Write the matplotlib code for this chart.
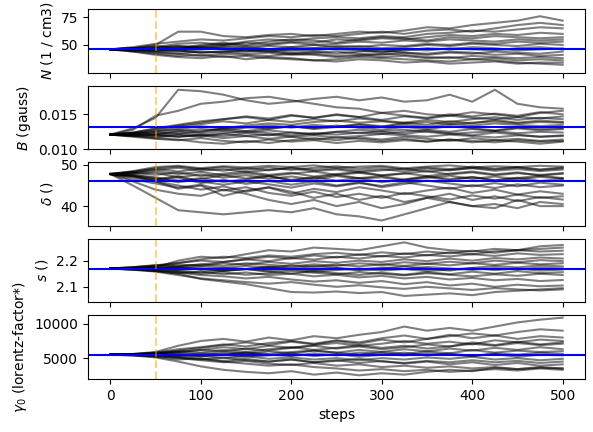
import matplotlib
matplotlib.use("Agg")
import matplotlib.pyplot as plt
import numpy as np

# walker positions every 25 steps
steps = list(range(0, 501, 25))

N_walkers = [
    [46, 47, 50, 62, 62, 58, 57, 59, 60, 58, 60, 62, 61, 63, 66, 65, 68, 70, 72, 76, 72],
    [46, 48, 51, 53, 55, 54, 56, 58, 57, 59, 58, 60, 62, 60, 63, 64, 62, 65, 68, 70, 68],
    [46, 44, 42, 40, 41, 39, 40, 38, 37, 36, 35, 37, 36, 34, 35, 33, 34, 35, 33, 34, 34],
    [46, 45, 47, 49, 48, 50, 52, 51, 53, 52, 55, 54, 56, 55, 57, 59, 58, 60, 59, 61, 60],
    [46, 46, 44, 45, 43, 44, 42, 43, 41, 42, 40, 41, 39, 40, 38, 39, 37, 38, 36, 37, 36],
    [46, 47, 46, 48, 47, 49, 48, 46, 48, 47, 49, 48, 50, 49, 51, 50, 52, 51, 53, 52, 53],
    [46, 45, 43, 42, 44, 43, 45, 44, 42, 43, 44, 42, 41, 43, 42, 44, 43, 41, 42, 40, 41],
    [46, 47, 49, 47, 50, 52, 50, 53, 55, 54, 52, 55, 57, 56, 54, 57, 56, 58, 57, 56, 57],
    [46, 46, 45, 46, 48, 47, 45, 44, 46, 45, 47, 46, 44, 45, 47, 46, 48, 47, 45, 46, 47],
    [46, 44, 41, 39, 38, 40, 37, 39, 38, 36, 37, 39, 38, 37, 36, 35, 37, 36, 34, 33, 32],
    [46, 47, 48, 51, 52, 50, 53, 55, 54, 56, 57, 56, 58, 57, 60, 61, 63, 62, 64, 66, 65],
    [46, 45, 46, 44, 46, 48, 47, 49, 48, 50, 48, 49, 47, 48, 50, 49, 51, 50, 49, 51, 50],
    [46, 46, 47, 45, 43, 44, 46, 45, 43, 44, 42, 44, 45, 43, 41, 43, 42, 44, 43, 42, 44],
    [46, 47, 45, 47, 49, 51, 49, 50, 52, 50, 51, 53, 52, 54, 53, 55, 54, 53, 55, 54, 55],
    [46, 45, 44, 42, 40, 42, 41, 40, 42, 41, 39, 40, 42, 41, 39, 38, 40, 39, 38, 39, 38],
    [46, 46, 48, 49, 47, 46, 44, 46, 45, 47, 46, 45, 43, 46, 45, 47, 46, 45, 47, 48, 46],
]

# B in milligauss (converted to gauss below)
B_walkers_mG = [
    [12.1, 13.0, 14.5, 18.5, 18.3, 17.8, 17.0, 16.5, 16.8, 17.2, 17.5, 17.0, 17.4, 16.8, 17.0, 17.8, 16.8, 18.5, 16.5, 16.0, 15.8],
    [12.1, 12.8, 14.8, 15.5, 16.5, 16.8, 17.3, 17.5, 17.0, 16.5, 16.0, 15.8, 15.2, 15.5, 15.0, 14.8, 15.3, 15.0, 14.6, 15.2, 15.5],
    [12.1, 12.4, 13.0, 13.5, 14.0, 14.3, 14.6, 14.2, 14.8, 14.5, 14.9, 14.6, 14.2, 14.7, 14.4, 14.8, 14.5, 14.3, 14.6, 14.4, 14.7],
    [12.1, 11.8, 11.5, 11.3, 11.6, 11.2, 11.0, 11.4, 11.1, 11.3, 10.9, 11.2, 11.0, 11.3, 11.1, 11.4, 11.2, 11.0, 11.3, 11.1, 11.2],
    [12.1, 12.3, 12.6, 12.9, 13.3, 13.0, 13.4, 13.7, 13.5, 13.9, 14.1, 13.8, 14.0, 13.7, 13.9, 13.6, 13.8, 14.0, 13.7, 13.9, 13.8],
    [12.1, 12.0, 11.7, 12.0, 11.8, 12.2, 11.9, 12.1, 11.8, 12.0, 11.7, 11.9, 12.2, 12.0, 11.8, 12.1, 11.9, 11.7, 12.0, 11.8, 11.9],
    [12.1, 12.2, 12.5, 12.8, 12.5, 13.0, 13.2, 12.9, 13.3, 13.0, 13.4, 13.1, 12.8, 13.2, 12.9, 13.3, 13.0, 12.7, 13.1, 12.9, 13.0],
    [12.1, 11.9, 11.6, 11.4, 11.0, 10.8, 11.2, 10.9, 11.3, 11.6, 11.3, 11.7, 11.4, 11.8, 11.5, 11.2, 11.6, 11.3, 11.5, 11.2, 11.4],
    [12.1, 12.3, 12.7, 13.2, 13.6, 14.0, 13.7, 14.2, 13.9, 14.3, 14.0, 14.4, 14.1, 13.8, 14.2, 13.9, 14.3, 14.6, 14.2, 14.5, 14.3],
    [12.1, 12.0, 12.2, 12.5, 12.3, 12.6, 12.4, 12.7, 12.4, 12.2, 12.5, 12.3, 12.6, 12.8, 12.5, 12.2, 12.4, 12.6, 12.3, 12.5, 12.4],
    [12.1, 12.2, 12.0, 11.8, 12.1, 11.9, 12.3, 12.0, 12.4, 12.1, 12.5, 12.8, 12.5, 12.2, 12.6, 12.3, 12.0, 12.4, 12.1, 11.8, 12.0],
    [12.1, 12.4, 12.9, 13.4, 13.8, 14.3, 14.7, 14.4, 14.9, 14.5, 15.0, 14.6, 15.2, 14.8, 14.5, 15.0, 14.7, 15.1, 14.8, 15.3, 15.0],
    [12.1, 11.9, 12.1, 11.8, 12.0, 11.6, 11.9, 11.5, 11.8, 11.4, 11.7, 11.5, 11.2, 11.5, 11.1, 11.4, 11.0, 11.3, 11.1, 10.8, 11.1],
    [12.1, 12.3, 12.1, 12.6, 12.9, 12.7, 13.1, 13.4, 13.1, 13.5, 13.2, 13.6, 13.3, 13.5, 13.2, 13.6, 13.4, 13.7, 13.5, 13.3, 13.5],
    [12.1, 12.0, 11.9, 12.2, 12.0, 12.3, 12.6, 12.3, 12.0, 12.3, 12.1, 12.4, 12.2, 12.5, 12.8, 12.5, 12.9, 12.6, 13.0, 12.7, 12.9],
    [12.1, 12.2, 12.4, 12.2, 12.6, 12.9, 12.6, 13.0, 13.3, 12.9, 13.2, 13.5, 13.2, 13.8, 13.5, 14.0, 13.7, 14.2, 13.8, 14.1, 13.9],
]

delta_walkers = [
    [47.8, 45.0, 42.0, 39.0, 38.5, 38.0, 38.5, 39.0, 38.5, 39.5, 38.0, 37.5, 36.5, 38.0, 39.5, 41.0, 40.0, 39.5, 41.5, 40.0, 40.0],
    [47.8, 46.0, 44.0, 43.0, 42.5, 44.0, 43.0, 41.5, 40.5, 41.5, 40.0, 41.0, 39.5, 40.5, 42.0, 41.0, 40.0, 40.5, 39.5, 41.0, 40.5],
    [47.8, 48.5, 49.5, 49.8, 49.2, 49.7, 49.4, 49.8, 49.5, 49.9, 49.3, 49.6, 49.8, 49.2, 49.6, 49.9, 49.4, 49.7, 49.5, 49.8, 49.6],
    [47.8, 48.2, 48.8, 49.3, 48.6, 49.0, 48.3, 48.8, 49.2, 48.5, 48.9, 48.2, 48.7, 49.1, 48.4, 48.8, 49.2, 48.6, 49.0, 48.5, 48.9],
    [47.8, 47.5, 47.0, 46.2, 46.8, 45.9, 46.5, 47.2, 46.4, 47.0, 46.2, 46.8, 45.8, 46.5, 47.3, 46.6, 47.1, 46.3, 46.9, 46.1, 46.6],
    [47.8, 47.0, 46.0, 45.0, 44.0, 44.8, 43.5, 44.5, 43.0, 44.2, 43.4, 44.6, 43.8, 42.9, 43.8, 44.5, 43.2, 44.0, 42.8, 43.6, 43.0],
    [47.8, 48.0, 48.5, 47.8, 48.3, 47.5, 48.0, 47.3, 47.9, 48.4, 47.6, 48.1, 47.4, 47.9, 48.5, 47.7, 48.2, 47.5, 48.0, 47.6, 48.0],
    [47.8, 47.2, 46.5, 47.3, 46.0, 45.2, 46.0, 45.3, 44.5, 45.5, 44.8, 45.6, 44.9, 45.8, 45.0, 44.2, 45.1, 44.4, 45.3, 44.6, 45.0],
    [47.8, 48.3, 49.0, 48.4, 49.1, 48.6, 49.3, 48.7, 49.4, 48.8, 49.2, 48.6, 49.0, 48.4, 49.1, 48.7, 49.3, 48.9, 49.4, 48.8, 49.2],
    [47.8, 47.6, 46.8, 45.8, 46.6, 47.5, 46.7, 47.4, 46.2, 46.9, 47.6, 46.8, 47.3, 46.4, 47.1, 46.3, 47.0, 46.2, 46.8, 47.4, 46.8],
    [47.8, 46.5, 45.5, 44.5, 45.2, 43.8, 44.6, 43.2, 42.5, 43.5, 42.2, 43.0, 42.0, 43.2, 42.4, 41.6, 42.6, 41.8, 42.8, 42.0, 42.4],
    [47.8, 48.1, 47.6, 48.2, 47.3, 47.9, 48.4, 47.6, 48.1, 47.2, 47.8, 48.3, 47.5, 48.0, 47.3, 47.9, 48.4, 47.7, 48.2, 47.4, 47.9],
    [47.8, 47.4, 46.4, 47.0, 45.6, 46.4, 45.4, 46.1, 45.2, 46.0, 45.0, 45.8, 44.6, 45.4, 46.2, 45.5, 44.8, 45.6, 44.8, 45.7, 45.2],
    [47.8, 48.4, 49.2, 49.6, 49.0, 49.5, 48.9, 49.4, 48.8, 49.3, 49.7, 49.1, 49.5, 48.9, 49.4, 49.0, 49.6, 49.1, 49.5, 48.9, 49.4],
    [47.8, 47.3, 46.0, 44.2, 45.0, 42.5, 43.8, 44.6, 43.5, 42.0, 43.0, 41.5, 42.5, 41.0, 42.0, 43.0, 41.5, 42.4, 41.2, 42.2, 41.6],
    [47.8, 47.9, 48.1, 47.0, 47.7, 46.9, 47.5, 46.6, 47.2, 46.5, 47.3, 46.7, 47.0, 46.2, 46.9, 47.4, 46.6, 47.2, 46.5, 47.1, 46.7],
]

s_walkers = [
    [2.170, 2.172, 2.175, 2.200, 2.215, 2.210, 2.225, 2.240, 2.235, 2.250, 2.245, 2.240, 2.255, 2.270, 2.250, 2.240, 2.235, 2.245, 2.240, 2.255, 2.260],
    [2.170, 2.165, 2.160, 2.150, 2.130, 2.120, 2.110, 2.095, 2.080, 2.078, 2.082, 2.076, 2.080, 2.065, 2.070, 2.075, 2.068, 2.080, 2.085, 2.090, 2.095],
    [2.170, 2.175, 2.180, 2.190, 2.205, 2.215, 2.210, 2.220, 2.215, 2.225, 2.230, 2.222, 2.232, 2.225, 2.235, 2.228, 2.238, 2.230, 2.240, 2.235, 2.238],
    [2.170, 2.168, 2.162, 2.155, 2.145, 2.140, 2.132, 2.138, 2.128, 2.120, 2.125, 2.115, 2.122, 2.110, 2.118, 2.105, 2.112, 2.100, 2.108, 2.102, 2.105],
    [2.170, 2.172, 2.178, 2.185, 2.180, 2.190, 2.185, 2.195, 2.188, 2.198, 2.192, 2.200, 2.195, 2.205, 2.198, 2.208, 2.200, 2.210, 2.205, 2.212, 2.208],
    [2.170, 2.166, 2.170, 2.164, 2.170, 2.162, 2.168, 2.160, 2.166, 2.158, 2.164, 2.170, 2.162, 2.168, 2.160, 2.166, 2.172, 2.164, 2.170, 2.162, 2.166],
    [2.170, 2.173, 2.168, 2.175, 2.165, 2.172, 2.180, 2.174, 2.182, 2.176, 2.185, 2.178, 2.186, 2.180, 2.188, 2.182, 2.190, 2.184, 2.192, 2.186, 2.190],
    [2.170, 2.167, 2.160, 2.152, 2.158, 2.148, 2.155, 2.145, 2.150, 2.140, 2.146, 2.136, 2.142, 2.132, 2.138, 2.128, 2.134, 2.125, 2.130, 2.122, 2.126],
    [2.170, 2.174, 2.182, 2.192, 2.200, 2.195, 2.205, 2.198, 2.210, 2.204, 2.215, 2.208, 2.218, 2.212, 2.222, 2.216, 2.225, 2.218, 2.228, 2.222, 2.225],
    [2.170, 2.168, 2.164, 2.158, 2.150, 2.155, 2.146, 2.152, 2.160, 2.154, 2.148, 2.156, 2.150, 2.144, 2.152, 2.146, 2.140, 2.148, 2.142, 2.150, 2.145],
    [2.170, 2.171, 2.175, 2.170, 2.178, 2.172, 2.168, 2.175, 2.170, 2.164, 2.172, 2.166, 2.174, 2.168, 2.176, 2.170, 2.165, 2.172, 2.166, 2.174, 2.170],
    [2.170, 2.166, 2.158, 2.145, 2.132, 2.125, 2.118, 2.112, 2.118, 2.108, 2.100, 2.106, 2.098, 2.092, 2.100, 2.094, 2.088, 2.095, 2.090, 2.086, 2.090],
    [2.170, 2.175, 2.183, 2.178, 2.186, 2.180, 2.190, 2.184, 2.178, 2.186, 2.180, 2.190, 2.184, 2.194, 2.188, 2.196, 2.190, 2.200, 2.194, 2.202, 2.198],
    [2.170, 2.169, 2.172, 2.178, 2.185, 2.195, 2.205, 2.215, 2.208, 2.220, 2.212, 2.224, 2.216, 2.228, 2.220, 2.232, 2.224, 2.236, 2.240, 2.245, 2.250],
    [2.170, 2.168, 2.166, 2.160, 2.155, 2.162, 2.168, 2.158, 2.150, 2.160, 2.152, 2.145, 2.154, 2.146, 2.156, 2.148, 2.158, 2.150, 2.160, 2.152, 2.156],
    [2.170, 2.172, 2.170, 2.176, 2.168, 2.160, 2.168, 2.176, 2.170, 2.180, 2.172, 2.162, 2.170, 2.178, 2.170, 2.162, 2.172, 2.180, 2.174, 2.182, 2.178],
]

gamma0_walkers = [
    [5500, 5600, 5900, 6800, 7500, 7800, 7400, 8000, 7600, 8200, 7900, 8400, 8800, 9600, 9000, 9400, 9000, 9600, 10200, 10600, 10900],
    [5500, 5400, 5100, 4500, 3800, 3300, 3000, 2800, 3100, 2600, 2900, 2500, 2800, 2600, 3000, 3300, 3100, 3600, 3400, 3700, 3500],
    [5500, 5600, 5800, 6300, 6600, 7000, 6700, 7200, 7500, 7100, 7600, 7300, 7900, 8300, 7800, 8200, 8600, 8300, 8800, 9200, 9000],
    [5500, 5450, 5300, 5000, 4700, 4400, 4600, 4200, 4000, 4300, 3900, 4100, 3700, 3900, 3600, 3800, 3500, 3700, 3400, 3600, 3500],
    [5500, 5550, 5700, 5900, 6200, 6000, 6400, 6100, 6500, 6800, 6400, 6700, 6300, 6600, 7000, 6700, 7100, 6800, 7200, 6900, 7100],
    [5500, 5500, 5400, 5600, 5300, 5500, 5200, 5400, 5700, 5300, 5600, 5200, 5500, 5800, 5400, 5700, 5300, 5600, 5200, 5500, 5400],
    [5500, 5450, 5200, 4800, 5000, 4600, 4900, 4500, 4800, 4400, 4700, 4300, 4600, 4200, 4500, 4100, 4400, 4000, 4300, 3900, 4100],
    [5500, 5600, 5700, 6000, 5800, 6200, 5900, 6300, 6600, 6200, 6500, 6900, 6500, 6800, 6400, 6700, 7300, 6900, 7400, 7000, 7300],
    [5500, 5400, 5500, 5200, 5400, 5000, 5300, 4900, 5100, 4800, 5000, 4700, 5000, 4800, 5100, 4900, 5200, 4800, 5000, 4700, 4900],
    [5500, 5550, 5800, 6100, 6500, 6900, 7300, 6900, 7400, 7000, 7500, 7100, 7700, 7300, 7800, 8400, 7900, 8300, 7800, 8200, 8000],
    [5500, 5480, 5400, 5200, 4900, 4500, 4200, 3900, 4100, 3700, 3500, 3200, 3400, 3100, 3300, 3000, 3200, 3400, 3200, 3500, 3300],
    [5500, 5520, 5600, 5400, 5700, 5500, 5800, 5600, 5900, 6100, 5800, 6200, 5900, 6300, 6000, 6400, 6100, 6500, 6200, 6600, 6300],
    [5500, 5500, 5600, 5800, 5500, 5900, 5600, 6000, 5700, 6100, 5800, 5500, 5900, 5600, 6000, 5700, 6200, 5800, 6100, 5900, 6000],
    [5500, 5450, 5300, 5100, 4800, 5100, 4700, 4500, 4800, 4400, 4600, 4900, 4500, 4300, 4600, 4400, 4700, 4400, 4600, 4300, 4500],
    [5500, 5500, 5600, 5500, 5300, 5600, 5800, 5500, 5300, 5700, 5400, 5800, 5600, 5400, 5700, 5500, 5300, 5700, 5500, 5800, 5600],
    [5500, 5550, 5650, 5900, 6200, 6600, 6300, 6800, 6500, 6900, 7200, 6800, 7100, 7500, 7100, 7400, 7000, 7600, 7300, 7700, 7500],
]

labels = ["$N$ (1 / cm3)", "$B$ (gauss)", "$\\delta$ ()", "$s$ ()",
          "$\\gamma_0$ (lorentz-factor*)"]
truths = [46.4, 0.0132, 46.0, 2.169, 5525]
burn_in = 50

chains = [
    np.array(N_walkers),
    np.array(B_walkers_mG) * 1e-3,
    np.array(delta_walkers),
    np.array(s_walkers),
    np.array(gamma0_walkers),
]
ylims = [(24.7, 82.5), (0.0100, 0.0191), (35.2, 50.7), (2.0405, 2.2844), (1983, 11268)]
yticks = [[50, 75], [0.010, 0.015], [40, 50], [2.1, 2.2], [5000, 10000]]

fig, axes = plt.subplots(5, 1, figsize=(5.93, 4.32), dpi=100, sharex=True)
fig.subplots_adjust(left=0.148, right=0.987, top=0.979, bottom=0.123, hspace=0.2)

for i, ax in enumerate(axes):
    for walker in chains[i]:
        ax.plot(steps, walker, color="k", alpha=0.5, linewidth=1.5)
    ax.axhline(truths[i], color="blue", linewidth=1.5)
    ax.axvline(burn_in, color="orange", linestyle="--", alpha=0.5)
    ax.set_ylabel(labels[i])
    ax.set_ylim(*ylims[i])
    ax.set_yticks(yticks[i])

axes[1].set_yticklabels(["0.010", "0.015"])
axes[-1].set_xlim(-25, 525)
axes[-1].set_xticks([0, 100, 200, 300, 400, 500])
axes[-1].set_xlabel("steps")

fig.savefig("out.png")
